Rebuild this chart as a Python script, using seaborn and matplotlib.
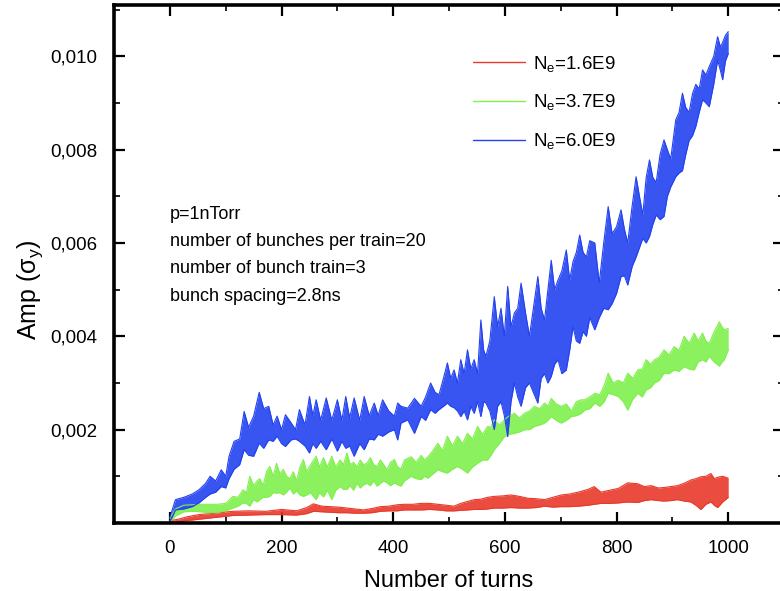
import numpy as np
import pandas as pd
import matplotlib
matplotlib.use('Agg')
import matplotlib.pyplot as plt
import seaborn as sns
from matplotlib.ticker import FixedLocator, MultipleLocator

sns.set_style('ticks')
plt.rcParams['font.family'] = ['Liberation Sans', 'DejaVu Sans']
plt.rcParams['mathtext.fontset'] = 'custom'
plt.rcParams['mathtext.rm'] = 'Liberation Sans'
plt.rcParams['mathtext.it'] = 'Liberation Sans:italic'
plt.rcParams['mathtext.default'] = 'regular'
for key in ['text.color', 'axes.labelcolor', 'xtick.color', 'ytick.color', 'axes.edgecolor']:
    plt.rcParams[key] = 'black'

# values, amplitude in units of 1e-3 sigma_y
red_turns = [0, 15, 30, 52, 82, 112, 142, 172, 200, 227, 245, 257, 272, 287, 302, 317, 332, 347, 362, 377,
             392, 407, 420, 435, 450, 465, 480, 495, 509, 521, 533, 545, 557, 569, 581, 596, 611, 626, 641, 656,
             671, 686, 701, 716, 731, 749, 760, 772, 787, 803, 820, 838, 850, 862, 875, 885, 897, 909, 921, 933,
             942, 951, 960, 969, 975, 981, 990, 1000]
red_upper = [0.05, 0.08, 0.13, 0.18, 0.21, 0.25, 0.26, 0.25, 0.29, 0.26, 0.33, 0.41, 0.36, 0.35, 0.34, 0.32, 0.30, 0.28, 0.31, 0.35,
             0.36, 0.39, 0.40, 0.40, 0.42, 0.42, 0.40, 0.38, 0.36, 0.42, 0.46, 0.50, 0.51, 0.55, 0.57, 0.58, 0.60, 0.57, 0.53, 0.52,
             0.50, 0.55, 0.60, 0.62, 0.66, 0.72, 0.78, 0.66, 0.70, 0.74, 0.86, 0.84, 0.78, 0.80, 0.75, 0.76, 0.78, 0.80, 0.85, 0.92,
             0.95, 0.99, 1.00, 1.06, 0.95, 0.98, 1.00, 0.96]
red_lower = [0.00, 0.02, 0.05, 0.08, 0.12, 0.16, 0.17, 0.18, 0.18, 0.17, 0.20, 0.25, 0.24, 0.23, 0.22, 0.22, 0.21, 0.21, 0.22, 0.25,
             0.26, 0.26, 0.28, 0.28, 0.28, 0.29, 0.28, 0.26, 0.26, 0.27, 0.28, 0.29, 0.29, 0.30, 0.32, 0.32, 0.33, 0.32, 0.32, 0.33,
             0.36, 0.34, 0.35, 0.35, 0.36, 0.38, 0.40, 0.42, 0.42, 0.43, 0.45, 0.44, 0.48, 0.50, 0.48, 0.47, 0.48, 0.50, 0.47, 0.45,
             0.38, 0.29, 0.40, 0.45, 0.38, 0.33, 0.45, 0.55]

green_turns = [0, 10, 25, 40, 55, 70, 85, 100, 113, 122, 131, 137, 143, 150, 156, 161, 167, 173, 179, 185,
               191, 197, 203, 209, 215, 221, 227, 233, 239, 245, 252, 262, 268, 275, 282, 290, 297, 305, 311, 317,
               323, 329, 335, 341, 347, 353, 359, 365, 371, 377, 383, 389, 395, 402, 408, 414, 420, 432, 441, 450,
               456, 462, 471, 480, 488, 497, 506, 515, 524, 533, 542, 551, 560, 569, 575, 581, 590, 599, 608, 617,
               626, 635, 644, 653, 662, 671, 677, 683, 692, 701, 710, 719, 728, 737, 743, 752, 761, 770, 778, 785,
               794, 803, 812, 820, 829, 838, 846, 853, 861, 868, 876, 885, 894, 903, 912, 921, 930, 939, 946, 954,
               960, 966, 975, 984, 989, 993, 1000]
green_upper = [0.10, 0.30, 0.38, 0.39, 0.40, 0.40, 0.40, 0.42, 0.57, 0.55, 0.71, 0.65, 1.00, 0.80, 0.90, 0.95, 0.80, 1.10, 1.21, 1.00,
               1.28, 1.05, 1.15, 1.00, 0.95, 1.10, 0.90, 1.20, 1.36, 1.10, 1.25, 1.43, 1.20, 1.40, 1.20, 1.43, 1.20, 1.35, 1.25, 1.50,
               1.25, 1.30, 1.20, 1.35, 1.25, 1.28, 1.40, 1.25, 1.21, 1.35, 1.25, 1.14, 1.30, 1.36, 1.20, 1.16, 1.35, 1.42, 1.30, 1.45,
               1.35, 1.42, 1.55, 1.71, 1.55, 1.86, 1.65, 1.86, 1.70, 1.92, 1.80, 2.07, 1.90, 2.07, 2.05, 2.21, 2.10, 2.21, 2.30, 2.35,
               2.25, 2.35, 2.40, 2.50, 2.45, 2.57, 2.50, 2.67, 2.55, 2.50, 2.55, 2.40, 2.60, 2.64, 2.64, 2.70, 2.78, 2.75, 2.95, 3.21,
               3.00, 3.06, 3.00, 3.21, 3.10, 3.28, 3.30, 3.50, 3.40, 3.50, 3.55, 3.71, 3.60, 3.78, 3.70, 4.00, 3.85, 4.07, 3.90, 4.07,
               3.90, 3.85, 4.10, 4.31, 4.20, 4.14, 4.17]
green_lower = [0.02, 0.15, 0.24, 0.25, 0.24, 0.22, 0.22, 0.26, 0.32, 0.36, 0.43, 0.42, 0.36, 0.50, 0.45, 0.50, 0.55, 0.55, 0.57, 0.65,
               0.64, 0.65, 0.60, 0.66, 0.75, 0.62, 0.69, 0.60, 0.57, 0.60, 0.65, 0.50, 0.65, 0.56, 0.70, 0.50, 0.70, 0.78, 0.72, 0.72,
               0.80, 0.70, 0.85, 0.75, 0.82, 0.85, 0.80, 0.90, 0.79, 0.85, 0.90, 0.86, 0.80, 0.86, 0.82, 0.79, 0.90, 1.00, 0.95, 0.93,
               1.00, 0.96, 1.05, 1.14, 1.10, 1.07, 1.15, 1.21, 1.15, 1.07, 1.20, 1.28, 1.35, 1.35, 1.45, 1.57, 1.70, 1.85, 1.90, 1.92,
               1.95, 2.00, 2.00, 2.07, 2.10, 2.14, 2.20, 2.28, 2.20, 2.14, 2.20, 2.28, 2.30, 2.35, 2.42, 2.45, 2.57, 2.50, 2.60, 2.78,
               2.75, 2.71, 2.60, 2.42, 2.65, 2.78, 2.70, 2.85, 2.90, 3.00, 3.05, 3.21, 3.20, 3.28, 3.25, 3.35, 3.30, 3.28, 3.45, 3.50,
               3.45, 3.57, 3.45, 3.36, 3.45, 3.50, 3.71]

blue_turns = [0, 10, 25, 40, 52, 64, 72, 82, 92, 100, 106, 115, 125, 133, 141, 150, 160, 168, 177, 185,
              192, 200, 207, 217, 225, 232, 242, 250, 256, 262, 270, 280, 290, 300, 308, 315, 322, 330, 340, 348,
              357, 366, 373, 381, 392, 402, 408, 414, 426, 438, 450, 458, 467, 475, 482, 490, 497, 503, 509, 515,
              521, 527, 533, 539, 545, 551, 557, 562, 566, 573, 581, 587, 593, 599, 605, 611, 617, 623, 629, 637,
              644, 651, 659, 665, 671, 677, 683, 689, 695, 702, 710, 716, 722, 728, 734, 740, 746, 752, 761, 769,
              777, 785, 792, 800, 808, 814, 820, 828, 835, 841, 847, 853, 859, 865, 871, 878, 885, 891, 897, 906,
              912, 918, 924, 930, 936, 942, 948, 954, 960, 966, 974, 981, 986, 990, 995, 1000]
blue_upper = [0.12, 0.50, 0.55, 0.62, 0.71, 0.85, 1.00, 0.90, 1.14, 1.00, 1.43, 1.75, 1.80, 2.39, 2.05, 2.29, 2.80, 2.45, 2.50, 2.10,
              2.29, 2.00, 2.32, 2.15, 2.00, 2.43, 2.10, 2.71, 2.30, 2.64, 2.20, 2.68, 2.20, 2.64, 2.20, 2.71, 2.25, 2.68, 2.20, 2.71,
              2.30, 2.57, 2.30, 2.64, 2.40, 2.29, 2.57, 2.50, 2.46, 2.67, 2.50, 2.70, 3.00, 2.80, 2.75, 3.10, 3.43, 3.10, 3.28, 3.00,
              3.50, 3.20, 3.71, 3.30, 3.50, 3.20, 4.35, 3.70, 3.57, 3.90, 4.85, 4.20, 4.60, 4.00, 5.07, 4.20, 4.50, 4.60, 5.14, 4.50,
              4.00, 4.60, 5.28, 4.60, 4.35, 5.00, 5.63, 5.00, 5.20, 5.40, 5.85, 5.20, 5.60, 5.80, 6.17, 5.80, 5.70, 6.05, 6.00, 5.14,
              6.00, 6.78, 6.20, 6.35, 6.71, 6.30, 6.00, 6.80, 7.42, 7.00, 6.60, 7.40, 7.78, 7.40, 7.30, 7.90, 8.21, 8.00, 7.80, 8.64,
              8.80, 9.21, 8.90, 8.80, 9.20, 9.40, 9.30, 9.71, 9.60, 9.78, 10.00, 10.42, 10.20, 10.30, 10.45, 10.53]
blue_lower = [0.02, 0.28, 0.30, 0.35, 0.43, 0.55, 0.62, 0.66, 0.78, 0.75, 0.95, 1.15, 1.25, 1.57, 1.45, 1.43, 1.71, 1.60, 1.78, 1.75,
              1.86, 1.70, 1.64, 1.78, 1.80, 1.75, 1.65, 1.50, 1.70, 1.60, 1.75, 1.57, 1.80, 1.54, 1.75, 1.60, 1.65, 1.43, 1.70, 1.57,
              1.80, 1.78, 1.90, 1.86, 1.95, 2.00, 1.78, 2.14, 2.21, 1.92, 2.28, 2.20, 2.43, 2.35, 2.43, 2.50, 2.57, 2.50, 2.47, 2.40,
              2.28, 2.40, 2.21, 2.50, 2.35, 2.60, 2.28, 2.60, 2.57, 2.40, 2.00, 2.50, 2.60, 2.30, 1.85, 2.60, 3.00, 2.70, 2.50, 2.90,
              3.00, 2.80, 2.57, 3.10, 3.20, 3.00, 3.14, 3.40, 3.50, 3.20, 3.28, 3.70, 4.20, 3.90, 3.85, 4.10, 4.00, 4.40, 4.14, 4.40,
              4.60, 4.57, 4.70, 4.92, 5.28, 5.30, 5.10, 5.50, 5.70, 5.90, 6.10, 6.00, 6.14, 6.40, 6.60, 6.50, 6.57, 7.00, 7.20, 7.42,
              7.50, 7.55, 7.90, 8.20, 8.30, 8.50, 8.80, 9.07, 9.00, 8.92, 9.40, 9.92, 9.70, 9.50, 9.90, 10.06]

series_labels = ['N$_e$=1.6E9', 'N$_e$=3.7E9', 'N$_e$=6.0E9']
series_colors = ['#e8392b', '#80f04c', '#2242f0']

x_ticks = [0, 200, 400, 600, 800, 1000]
y_ticks = [0.002, 0.004, 0.006, 0.008, 0.010]
y_tick_labels = ['0,002', '0,004', '0,006', '0,008', '0,010']

info_text = 'p=1nTorr\nnumber of bunches per train=20\nnumber of bunch train=3\nbunch spacing=2.8ns'

series = [
    (series_labels[0], red_turns, red_upper, red_lower),
    (series_labels[1], green_turns, green_upper, green_lower),
    (series_labels[2], blue_turns, blue_upper, blue_lower),
]

frames = []
for label, turns, upper, lower in series:
    n = len(turns)
    frames.append(pd.DataFrame({
        'turn': list(turns) + list(turns),
        'amp': (np.array(list(upper) + list(lower)) * 1e-3),
        'Ne': label,
        'edge': ['upper'] * n + ['lower'] * n,
    }))
df = pd.concat(frames, ignore_index=True)

fig = plt.figure(figsize=(7.8, 5.91), dpi=100)
ax = fig.add_axes([0.1462, 0.1151, 0.859, 0.8764])

palette = dict(zip(series_labels, series_colors))
sns.lineplot(data=df, x='turn', y='amp', hue='Ne', units='edge', estimator=None,
             palette=palette, lw=0.8, ax=ax)

for label, turns, upper, lower in series:
    ax.fill_between(turns, np.array(lower) * 1e-3, np.array(upper) * 1e-3,
                    color=palette[label], lw=0, alpha=0.9)

ax.set_xlim(-100, 1100)
ax.set_ylim(0, 0.0111)
ax.xaxis.set_major_locator(FixedLocator(x_ticks))
ax.xaxis.set_minor_locator(MultipleLocator(100))
ax.yaxis.set_major_locator(FixedLocator(y_ticks))
ax.set_yticklabels(y_tick_labels)
ax.yaxis.set_minor_locator(MultipleLocator(0.001))

ax.tick_params(which='both', direction='in', top=True, right=True, labelsize=13.5)
ax.tick_params(which='major', length=8, width=1.6, pad=12)
ax.tick_params(which='minor', length=4.5, width=1.2)
for sp in ax.spines.values():
    sp.set_linewidth(2.6)

ax.set_xlabel('Number of turns', fontsize=17, labelpad=9.5)
ax.set_ylabel(r'Amp ($\sigma_y$)', fontsize=18)
ax.yaxis.set_label_coords(-0.103, 0.45)

handles, labels = ax.get_legend_handles_labels()
ax.legend(handles, labels, loc='upper left', bbox_to_anchor=(0.513, 0.935), frameon=False,
          fontsize=13.5, handlelength=2.8, handletextpad=0.4, labelspacing=1.0, borderpad=0.3)
for line in ax.get_legend().get_lines():
    line.set_linewidth(1.0)

ax.text(0.0, 0.00574, info_text, fontsize=13, linespacing=1.8, va='center', ha='left')

fig.savefig('out.png', dpi=100)
